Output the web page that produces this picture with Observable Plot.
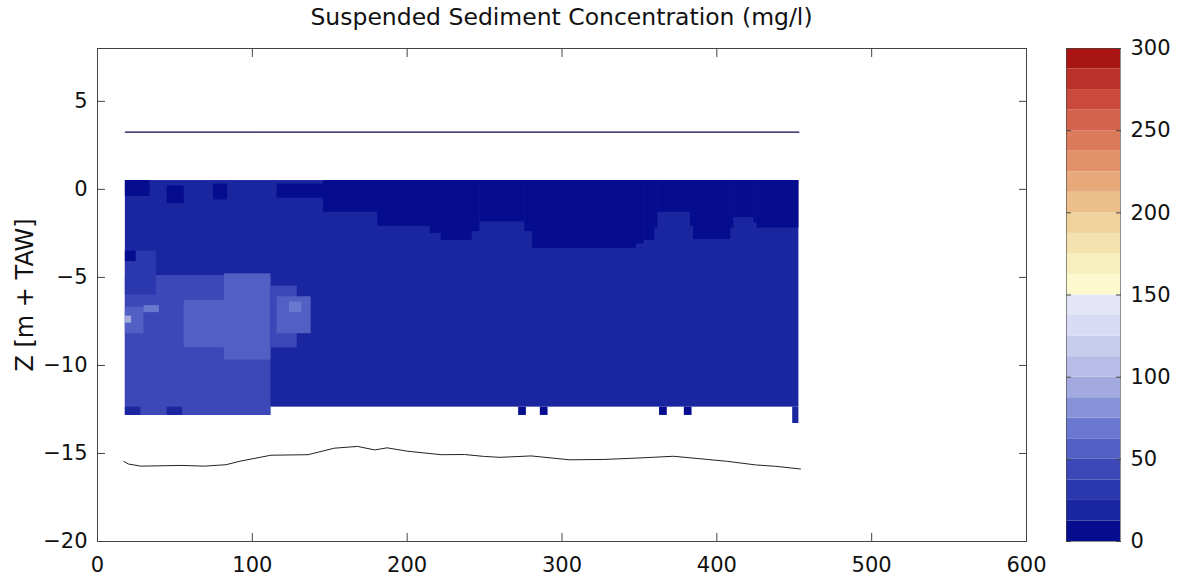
<!DOCTYPE html>
<html><head><meta charset="utf-8">
<script src="https://cdn.jsdelivr.net/npm/d3@7"></script>
<script src="https://cdn.jsdelivr.net/npm/@observablehq/plot@0.6"></script>
<style>
body{margin:0;background:#fff;}
#wrap{position:relative;width:1184px;height:580px;overflow:hidden;font-family:"DejaVu Sans",sans-serif;}
#main{position:absolute;left:0;top:0;}
#cbar{position:absolute;left:1040px;top:0;}
#title{position:absolute;left:97px;width:929px;top:3px;text-align:center;font-size:23.5px;color:#111;white-space:nowrap;}
</style></head><body>
<div id="wrap"><div id="main"></div><div id="cbar"></div><div id="title">Suspended Sediment Concentration (mg/l)</div></div>
<script>
// ---- axes ----
const xTicks = [0, 100, 200, 300, 400, 500, 600];
const zTicks = [-20, -15, -10, -5, 0, 5];
const cTicks = [0, 50, 100, 150, 200, 250, 300];
const yLabel = "Z [m + TAW]";

// ---- colormap (mg/l) ----
const cBreaks = [12.5, 25, 37.5, 50, 62.5, 75, 87.5, 100, 112.5, 125, 137.5, 150,
                 162.5, 175, 187.5, 200, 212.5, 225, 237.5, 250, 262.5, 275, 287.5];
const cColors = ["#060c8e", "#1a25a0", "#2a37ad", "#3c48b8", "#5260c4", "#6a78cf",
                 "#8892d8", "#a2aae0", "#b7bde7", "#c8cded", "#d7dbf3", "#e4e6f7",
                 "#fcf9cf", "#f7efbe", "#f3e2ad", "#efd29c", "#ecbf8a", "#e8a97b",
                 "#e3916b", "#dc7a5c", "#d4634d", "#c94a3d", "#bb3029", "#a81512"];
const cLow  = [0, 12.5, 25, 37.5, 50, 62.5, 75, 87.5, 100, 112.5, 125, 137.5,
               150, 162.5, 175, 187.5, 200, 212.5, 225, 237.5, 250, 262.5, 275, 287.5];
const cHigh = [12.5, 25, 37.5, 50, 62.5, 75, 87.5, 100, 112.5, 125, 137.5, 150,
               162.5, 175, 187.5, 200, 212.5, 225, 237.5, 250, 262.5, 275, 287.5, 300];

// ---- water surface and bed ----
const surfaceX = [18, 453];
const surfaceZ = [3.25, 3.25];
const bedX = [17, 20, 28, 54, 69, 83, 92, 112, 136, 153, 168, 179, 187, 200, 222, 237, 250,
              260, 280, 305, 327, 349, 372, 394, 407, 425, 438, 454];
const bedZ = [-15.45, -15.6, -15.72, -15.68, -15.72, -15.64, -15.44, -15.1, -15.07, -14.7, -14.6,
              -14.8, -14.68, -14.87, -15.07, -15.06, -15.17, -15.22, -15.14, -15.36, -15.34,
              -15.26, -15.16, -15.34, -15.45, -15.65, -15.73, -15.88];

// ---- concentration field (cells, drawn in order) ----
const cellX1 = [18, 18, 272, 286, 363, 379, 449,
                146, 181, 215, 222, 242, 247, 276, 281, 348, 353, 360, 362, 383, 385, 409, 411, 424, 426,
                18, 45, 75, 116,
                18, 18, 18, 38, 82, 112, 116, 18, 18, 56, 18, 45, 124, 30, 60, 95];
const cellX2 = [453, 112, 277, 291, 368, 384, 453,
                181, 215, 222, 242, 247, 276, 281, 348, 353, 360, 362, 383, 385, 409, 411, 424, 426, 453,
                34, 56, 84, 146,
                112, 38, 25, 82, 112, 129, 138, 30, 22, 82, 28, 55, 132, 40, 70, 103];
const cellZ1 = [-12.37, -12.84, -12.84, -12.84, -12.84, -12.84, -13.3,
                -1.3, -2.1, -2.5, -2.9, -2.4, -1.85, -2.4, -3.35, -3.1, -2.9, -2.2, -1.3, -2.1, -2.85, -2.2, -1.6, -1.9, -2.2,
                -0.4, -0.8, -0.6, -0.5,
                -12.84, -6.0, -4.1, -6.3, -9.7, -9.0, -8.2, -8.2, -7.6, -9.0, -12.84, -12.84, -7.0, -7.0, -8.0, -6.0];
const cellZ2 = [0.5, -12.37, -12.37, -12.37, -12.37, -12.37, -12.37,
                0.5, 0.5, 0.5, 0.5, 0.5, 0.5, 0.5, 0.5, 0.5, 0.5, 0.5, 0.5, 0.5, 0.5, 0.5, 0.5, 0.5, 0.5,
                0.5, 0.2, 0.3, 0.3,
                -4.9, -3.5, -3.5, -4.9, -4.8, -5.5, -6.1, -6.7, -7.2, -6.3, -12.37, -12.37, -6.4, -6.6, -7.4, -5.4];
const cellSSC = [20, 40, 10, 10, 10, 10, 20,
                 5, 5, 5, 5, 5, 5, 5, 5, 5, 5, 5, 5, 5, 5, 5, 5, 5, 5,
                 5, 5, 5, 5,
                 45, 30, 5, 38, 50, 40, 52, 62, 90, 50, 15, 15, 65, 65, 60, 60];

const cells = cellX1.map((x1, i) => ({x1, x2: cellX2[i], z1: cellZ1[i], z2: cellZ2[i], v: cellSSC[i]}));
const surface = surfaceX.map((x, i) => ({x, z: surfaceZ[i]}));
const bed = bedX.map((x, i) => ({x, z: bedZ[i]}));
const cbarCells = cLow.map((lo, i) => ({lo, hi: cHigh[i], mid: (lo + cHigh[i]) / 2}));

const colorScale = {type: "threshold", domain: cBreaks, range: cColors};
const font = {fontFamily: "DejaVu Sans", fontSize: "21px", color: "#111", background: "transparent"};
const axisColor = "#444";

const main = Plot.plot({
  width: 1184, height: 580,
  marginLeft: 97, marginRight: 158, marginTop: 48, marginBottom: 39,
  style: font,
  x: {domain: [0, 600], axis: null},
  y: {domain: [-20, 8], axis: null},
  color: colorScale,
  marks: [
    Plot.rect(cells, {x1: "x1", x2: "x2", y1: "z1", y2: "z2", fill: "v"}),
    Plot.line(surface, {x: "x", y: "z", stroke: "#0a0a50", strokeWidth: 1.2}),
    Plot.line(bed, {x: "x", y: "z", stroke: "#222", strokeWidth: 1}),
    Plot.frame({stroke: axisColor}),
    Plot.axisX(xTicks, {anchor: "bottom", tickSize: 0, tickPadding: 16, label: null, fill: "#111"}),
    Plot.axisX(xTicks, {anchor: "bottom", tickSize: 8, dy: -8, tickFormat: () => "", label: null, stroke: axisColor}),
    Plot.axisX(xTicks, {anchor: "top", tickSize: 8, dy: 8, tickFormat: () => "", label: null, stroke: axisColor}),
    Plot.axisY(zTicks, {anchor: "left", tickSize: 0, tickPadding: 10, label: null, fill: "#111"}),
    Plot.axisY(zTicks, {anchor: "left", tickSize: 8, dx: 8, tickFormat: () => "", label: null, stroke: axisColor}),
    Plot.axisY(zTicks, {anchor: "right", tickSize: 8, dx: -8, tickFormat: () => "", label: null, stroke: axisColor}),
    Plot.text([yLabel], {text: d => d, frameAnchor: "left", textAnchor: "middle", lineAnchor: "middle",
                         rotate: -90, dx: -72, fill: "#111", fontSize: 24})
  ]
});
document.getElementById("main").append(main);

const cbar = Plot.plot({
  width: 144, height: 580,
  marginLeft: 26, marginRight: 64, marginTop: 48, marginBottom: 39,
  style: font,
  x: {type: "band", domain: ["c"], padding: 0, axis: null},
  y: {domain: [0, 300], axis: null},
  color: colorScale,
  marks: [
    Plot.barY(cbarCells, {x: () => "c", y1: "lo", y2: "hi", fill: "mid", inset: 0}),
    Plot.frame({stroke: axisColor, strokeOpacity: 0.6}),
    Plot.axisY(cTicks, {anchor: "right", tickSize: 0, tickPadding: 10, label: null, fill: "#111"}),
    Plot.axisY(cTicks, {anchor: "right", tickSize: 5, dx: -5, tickFormat: () => "", label: null, stroke: axisColor}),
    Plot.axisY(cTicks, {anchor: "left", tickSize: 5, dx: 5, tickFormat: () => "", label: null, stroke: axisColor})
  ]
});
document.getElementById("cbar").append(cbar);
</script>
</body></html>
